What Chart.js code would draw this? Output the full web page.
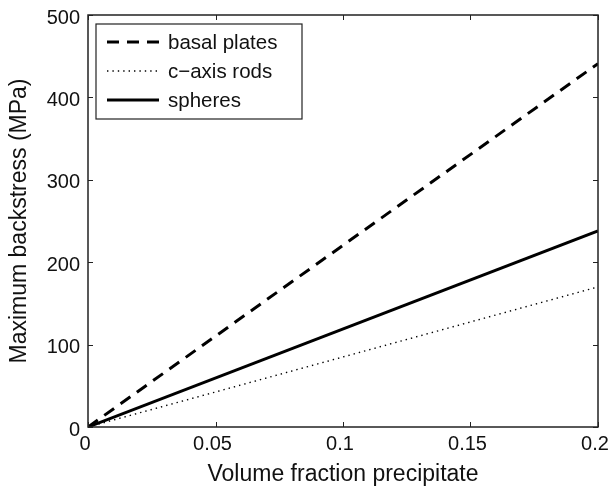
<!DOCTYPE html>
<html>
<head>
<meta charset="utf-8">
<script src="https://cdn.jsdelivr.net/npm/chart.js@4"></script>
<style>
  body { margin: 0; background: #fff; }
  #wrap { width: 613px; height: 491px; }
</style>
</head>
<body>
<div id="wrap"><canvas id="chart" width="613" height="491"></canvas></div>
<script>
// data
var volumeFraction = [0, 0.2]
var basalPlates = [0, 441]
var cAxisRods = [0, 170]
var spheres = [0, 238]
var xTicks = [0, 0.05, 0.1, 0.15, 0.2]
var yTicks = [0, 100, 200, 300, 400, 500]

var FONT = 'Liberation Sans, Arial, sans-serif'

function pts(ys) {
    return volumeFraction.map((x, i) => ({ x: x, y: ys[i] }))
}

// box, inward ticks and legend like the original figure
var framePlugin = {
    id: 'frame',
    afterDraw(chart) {
        var ctx = chart.ctx
        var a = chart.chartArea
        var xs = chart.scales.x, ys = chart.scales.y
        ctx.save()
        ctx.strokeStyle = '#222'
        ctx.lineWidth = 1.5
        ctx.strokeRect(a.left, a.top, a.right - a.left, a.bottom - a.top)
        ctx.lineWidth = 1
        var len = 5
        ctx.beginPath()
        xTicks.forEach(v => {
            var px = Math.round(xs.getPixelForValue(v)) + 0.5
            ctx.moveTo(px, a.bottom); ctx.lineTo(px, a.bottom - len)
            ctx.moveTo(px, a.top); ctx.lineTo(px, a.top + len)
        })
        yTicks.forEach(v => {
            var py = Math.round(ys.getPixelForValue(v)) + 0.5
            ctx.moveTo(a.left, py); ctx.lineTo(a.left + len, py)
            ctx.moveTo(a.right, py); ctx.lineTo(a.right - len, py)
        })
        ctx.stroke()

        // legend
        var lx = 96, ly = 24, lw = 206, lh = 95
        ctx.fillStyle = '#fff'
        ctx.fillRect(lx, ly, lw, lh)
        ctx.strokeStyle = '#222'
        ctx.lineWidth = 1.2
        ctx.strokeRect(lx, ly, lw, lh)
        ctx.font = '20.5px ' + FONT
        ctx.textBaseline = 'middle'
        chart.data.datasets.forEach((ds, i) => {
            var y = ly + 18 + i * 29
            ctx.beginPath()
            ctx.setLineDash(ds.borderDash || [])
            ctx.lineWidth = ds.borderWidth
            ctx.strokeStyle = '#000'
            ctx.moveTo(lx + 11, y); ctx.lineTo(lx + 63, y)
            ctx.stroke()
            ctx.setLineDash([])
            ctx.fillStyle = '#111'
            ctx.fillText(ds.label, lx + 72, y + 1)
        })
        ctx.restore()
    }
}

function noPad(s) {
    s.paddingLeft = 0; s.paddingRight = 0; s.paddingTop = 0; s.paddingBottom = 0
}

var ctx = document.getElementById('chart').getContext('2d')
var chart = new Chart(ctx, {
    type: 'scatter',
    data: {
        datasets: [{
            label: 'basal plates',
            data: pts(basalPlates),
            showLine: true,
            borderColor: '#000',
            borderWidth: 3,
            borderDash: [12, 8],
            pointRadius: 0
        }, {
            label: 'c\u2212axis rods',
            data: pts(cAxisRods),
            showLine: true,
            borderColor: '#000',
            borderWidth: 1.4,
            borderDash: [1.4, 4],
            pointRadius: 0
        }, {
            label: 'spheres',
            data: pts(spheres),
            showLine: true,
            borderColor: '#000',
            borderWidth: 3,
            pointRadius: 0
        }]
    },
    options: {
        responsive: false,
        animation: false,
        layout: { padding: { top: 15, right: 15, left: 0, bottom: 0 } },
        plugins: { legend: { display: false }, tooltip: { enabled: false } },
        scales: {
            x: {
                type: 'linear', min: 0, max: 0.2,
                afterBuildTicks(s) { s.ticks = xTicks.map(v => ({ value: v })) },
                afterFit(s) { s.height = 64; noPad(s) },
                grid: { display: false, drawTicks: false },
                border: { display: false },
                ticks: {
                    color: '#111', padding: 5, labelOffset: -3,
                    font: { family: FONT, size: 20 },
                    callback: v => String(v)
                },
                title: {
                    display: true, text: 'Volume fraction precipitate', color: '#111',
                    font: { family: FONT, size: 23 }, padding: { top: 2, bottom: 3 }
                }
            },
            y: {
                min: 0, max: 500,
                afterBuildTicks(s) { s.ticks = yTicks.map(v => ({ value: v })) },
                afterFit(s) { s.width = 88; noPad(s) },
                grid: { display: false, drawTicks: false },
                border: { display: false },
                ticks: {
                    color: '#111', padding: 8, labelOffset: 3,
                    font: { family: FONT, size: 20 }
                },
                title: {
                    display: true, text: 'Maximum backstress (MPa)', color: '#111',
                    font: { family: FONT, size: 23 }, padding: { top: 6, bottom: 0 }
                }
            }
        }
    },
    plugins: [framePlugin]
})
</script>
</body>
</html>
